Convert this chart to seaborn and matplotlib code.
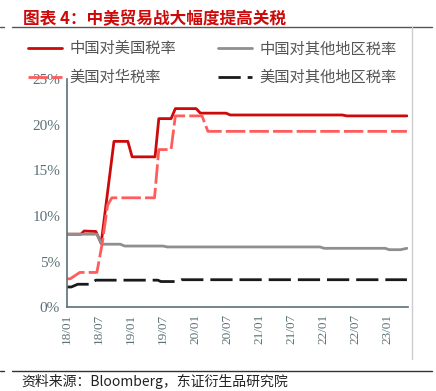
import matplotlib
matplotlib.use("Agg")
import matplotlib.pyplot as plt
import seaborn as sns

# months counted from 2018/01
cn_us_x = [0, 2.6, 3.2, 5.4, 6.4, 8.8, 11.4, 12.2, 16.5, 17.2, 19.5, 20.3, 24.2, 25.0, 29.8, 30.6, 51.6, 52.4, 63.7]
cn_us_y = [8.0, 8.0, 8.35, 8.3, 7.0, 18.2, 18.2, 16.5, 16.5, 20.7, 20.7, 21.8, 21.8, 21.3, 21.3, 21.1, 21.1, 21.0, 21.0]

us_cn_x = [0, 0.6, 2.4, 5.6, 6.6, 7.6, 8.4, 16.4, 17.2, 19.5, 20.3, 25.3, 26.4, 63.7]
us_cn_y = [3.1, 3.1, 3.8, 3.8, 7.0, 11.2, 12.0, 12.0, 17.3, 17.3, 21.0, 21.0, 19.3, 19.3]

cn_oth_x = [0, 5.6, 6.5, 10.0, 10.8, 18.0, 18.8, 47.4, 48.2, 59.6, 60.4, 62.5, 63.7]
cn_oth_y = [8.0, 8.0, 6.9, 6.9, 6.7, 6.7, 6.6, 6.6, 6.45, 6.45, 6.3, 6.3, 6.45]

us_oth_x = [0, 0.8, 2.0, 4.3, 5.4, 17.0, 17.6, 20.6, 21.4, 63.7]
us_oth_y = [2.2, 2.2, 2.5, 2.5, 2.95, 2.95, 2.8, 2.8, 3.0, 3.0]

tick_pos = [0, 6, 12, 18, 24, 30, 36, 42, 48, 54, 60]
tick_lab = ["18/01", "18/07", "19/01", "19/07", "20/01", "20/07", "21/01", "21/07", "22/01", "22/07", "23/01"]

sns.set_style("white")
plt.rcParams['font.family'] = ['Noto Sans CJK SC', 'DejaVu Sans']

axc = "#5b7178"
fig = plt.figure(figsize=(4.36, 3.91), dpi=100)
ax = fig.add_axes([0.1537, 0.2148, 0.7821, 0.5819])

sns.lineplot(x=cn_us_x, y=cn_us_y, ax=ax, color="#cc0a0a", lw=2.0, label="中国对美国税率")
sns.lineplot(x=cn_oth_x, y=cn_oth_y, ax=ax, color="#8f8f8f", lw=2.0, label="中国对其他地区税率")
sns.lineplot(x=us_cn_x, y=us_cn_y, ax=ax, color="#ff5c5c", lw=2.0, label="美国对华税率")
sns.lineplot(x=us_oth_x, y=us_oth_y, ax=ax, color="#1a1a1a", lw=2.0, label="美国对其他地区税率")
ax.lines[2].set_dashes([7, 1.5])
ax.lines[3].set_dashes([8, 2.5])

ax.set_xlim(0, 63.9)
ax.set_ylim(0, 25)
ax.set_yticks([0, 5, 10, 15, 20, 25])
ax.set_yticklabels(["0%", "5%", "10%", "15%", "20%", "25%"], family="Liberation Serif", fontsize=11, color=axc)
ax.set_xticks(tick_pos)
ax.set_xticklabels(tick_lab, rotation=90, family="Liberation Serif", fontsize=9.5, color=axc)
ax.tick_params(axis="both", direction="in", length=4, width=1, color=axc, pad=5)
for s in ["top", "right"]:
    ax.spines[s].set_visible(False)
for s in ["left", "bottom"]:
    ax.spines[s].set_color(axc)
    ax.spines[s].set_linewidth(1.2)

h, l = ax.get_legend_handles_labels()
order = [0, 2, 1, 3]
ax.legend([h[i] for i in order], [l[i] for i in order], loc="upper left",
          bbox_to_anchor=(0.064, 0.897), bbox_transform=fig.transFigure,
          ncol=2, frameon=False, fontsize=11, labelcolor="#555555",
          handlelength=2.2, columnspacing=2.75, handletextpad=0.52,
          labelspacing=0.78, borderpad=0, borderaxespad=0)

fig.text(0.052, 0.952, "图表 4：中美贸易战大幅度提高关税", color="#cc0a0a", fontsize=12, fontweight="bold", va="center")
fig.text(0.05, 0.025, "资料来源：Bloomberg，东证衍生品研究院", color="#222222", fontsize=10, va="center")

fig.add_artist(plt.Line2D([0.028, 0.99], [0.931, 0.931], color="#555555", lw=1))
fig.add_artist(plt.Line2D([0.0, 0.01], [0.931, 0.931], color="#555555", lw=1))
fig.add_artist(plt.Line2D([0.028, 0.99], [0.051, 0.051], color="#333333", lw=1))
fig.add_artist(plt.Line2D([0.0, 0.01], [0.051, 0.051], color="#333333", lw=1))
fig.add_artist(plt.Line2D([0.944, 0.944], [0.082, 0.931], color="#cccccc", lw=1))

fig.savefig("out.png", dpi=100)
